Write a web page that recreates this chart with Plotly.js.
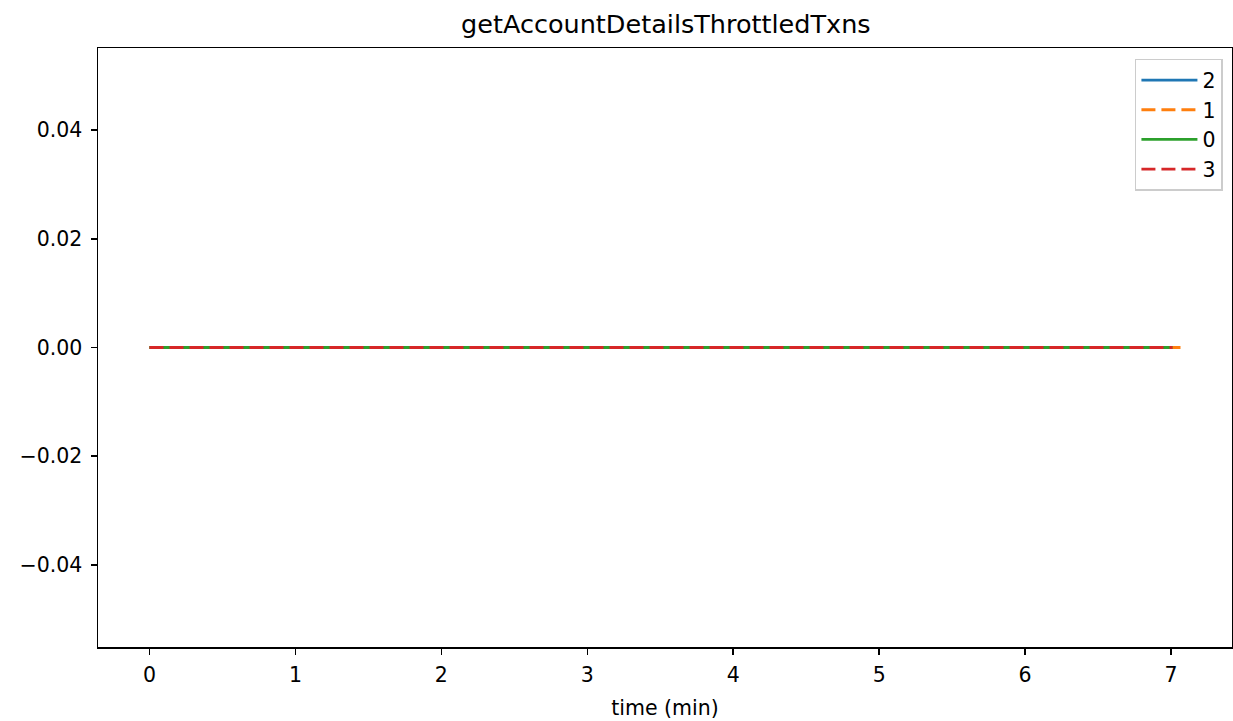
<!DOCTYPE html>
<html>
<head>
<meta charset="utf-8">
<script src="https://cdn.plot.ly/plotly-3.0.1.min.js"></script>
<style>html,body{margin:0;padding:0;background:#fff;}#chart{width:1233px;height:721px;}</style>
</head>
<body>
<div id="chart"></div>
<script>
// Series names (legend order) and colours
const seriesNames = ["2", "1", "0", "3"];
const seriesColors = ["#1f77b4", "#ff7f0e", "#2ca02c", "#d62728"];
const seriesDash = ["solid", "dash", "solid", "dash"];

// Time samples (min) for each series
const time2 = [0, 0.5, 1, 1.5, 2, 2.5, 3, 3.5, 4, 4.5, 5, 5.5, 6, 6.5, 7, 7.03];
const time1 = [0, 0.5, 1, 1.5, 2, 2.5, 3, 3.5, 4, 4.5, 5, 5.5, 6, 6.5, 7, 7.065];
const time0 = [0, 0.5, 1, 1.5, 2, 2.5, 3, 3.5, 4, 4.5, 5, 5.5, 6, 6.5, 7, 7.01];
const time3 = [0, 0.5, 1, 1.5, 2, 2.5, 3, 3.5, 4, 4.5, 5, 5.5, 6, 6.5, 7, 7.01];

// Throttled txn values (all zero)
const values2 = [0, 0, 0, 0, 0, 0, 0, 0, 0, 0, 0, 0, 0, 0, 0, 0];
const values1 = [0, 0, 0, 0, 0, 0, 0, 0, 0, 0, 0, 0, 0, 0, 0, 0];
const values0 = [0, 0, 0, 0, 0, 0, 0, 0, 0, 0, 0, 0, 0, 0, 0, 0];
const values3 = [0, 0, 0, 0, 0, 0, 0, 0, 0, 0, 0, 0, 0, 0, 0, 0];

const xTickVals = [0, 1, 2, 3, 4, 5, 6, 7];
const yTickVals = [-0.04, -0.02, 0, 0.02, 0.04];
const yTickText = ["\u22120.04", "\u22120.02", "0.00", "0.02", "0.04"];

const times = [time2, time1, time0, time3];
const vals = [values2, values1, values0, values3];

const traces = seriesNames.map((n, i) => ({
  x: times[i], y: vals[i], name: n, type: "scatter", mode: "lines",
  line: {color: seriesColors[i], width: 2.8, dash: seriesDash[i] === "dash" ? "14px,6px" : "solid"}
}));

const font = {family: "DejaVu Sans", size: 20.5, color: "#000"};

const layout = {
  width: 1233, height: 721,
  margin: {l: 98, r: 1, t: 48, b: 74, pad: 0},
  paper_bgcolor: "#fff", plot_bgcolor: "#fff",
  font: font,
  title: {text: "getAccountDetailsThrottledTxns", font: {family: "DejaVu Sans", size: 25.5, color: "#000"}, x: 0.54, xanchor: "center", y: 0.966, yanchor: "middle"},
  xaxis: {
    range: [-0.353, 7.418], tickvals: xTickVals, ticks: "outside", ticklen: 6, tickwidth: 1.5, tickcolor: "#000",
    showline: true, linecolor: "#000", linewidth: 1.5, mirror: true, showgrid: false, zeroline: false,
    ticklabelstandoff: 3,
    title: {text: "time (min)", font: font, standoff: 14}, tickfont: font
  },
  yaxis: {
    range: [-0.0551, 0.0551], tickvals: yTickVals, ticktext: yTickText, ticks: "outside", ticklen: 6, tickwidth: 1.5, tickcolor: "#000",
    showline: true, linecolor: "#000", linewidth: 1.5, mirror: true, showgrid: false, zeroline: false, tickfont: font,
    ticklabelstandoff: 4
  },
  legend: {
    x: 0.992, xanchor: "right", y: 0.982, yanchor: "top",
    bgcolor: "rgba(255,255,255,0.8)", bordercolor: "#cccccc", borderwidth: 1.5,
    font: {family: "DejaVu Sans", size: 20.5, color: "#000"}, tracegroupgap: 2, itemwidth: 56
  },
  showlegend: true
};

Plotly.newPlot("chart", traces, layout, {displayModeBar: false, staticPlot: true});
</script>
</body>
</html>
